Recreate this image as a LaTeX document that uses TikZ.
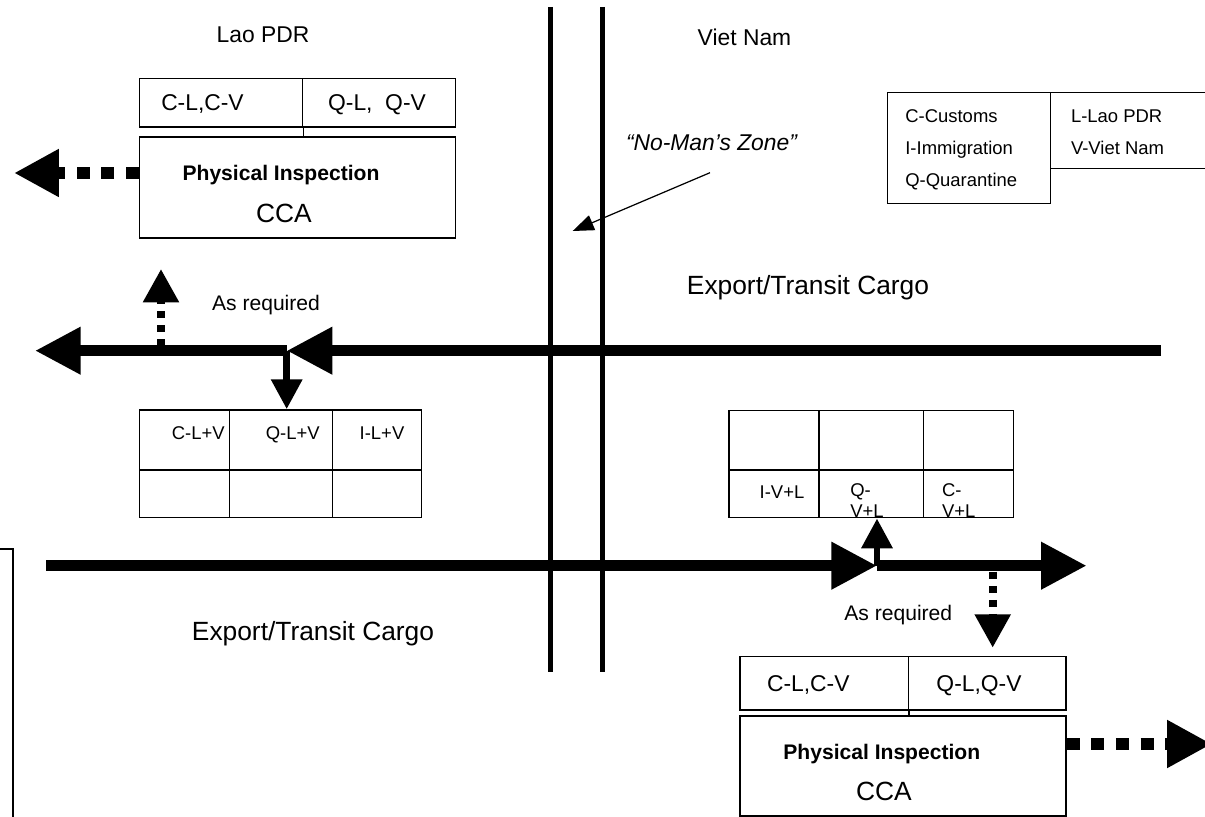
\documentclass[tikz,border=0pt]{standalone}
\usepackage{fontspec}
\setmainfont{Liberation Sans}
\usetikzlibrary{positioning,arrows.meta,fit,calc}

\begin{document}
\begin{tikzpicture}[
  x=0.02cm, y=-0.02cm,
  txt/.style={inner sep=0pt, text depth=0pt, font=\fontsize{13}{15}\selectfont},
  small/.style={inner sep=0pt, text depth=0pt, font=\fontsize{10.5}{12}\selectfont},
  big/.style={inner sep=0pt, text depth=0pt, font=\fontsize{15}{18}\selectfont},
  phys/.style={inner sep=0pt, text depth=0pt, font=\fontsize{12}{14}\selectfont\bfseries},
  note/.style={inner sep=0pt, text depth=0pt, font=\fontsize{12}{14}\selectfont},
  cell/.style={draw, line width=0.9pt, inner sep=0pt},
  rule/.style={line width=0.9pt},
  border/.style={line width=2.8pt},
  flow/.style={line width=6.2pt, -{Triangle[length=26pt, width=25.5pt]}},
  link/.style={line width=3.9pt, -{Triangle[length=17pt, width=17pt]}},
  dots/.style={line width=4.4pt, dash pattern=on 4pt off 4pt,
               -{Triangle[length=19pt, width=19.5pt]}},
  bigdots/.style={line width=6.8pt, dash pattern=on 7.4pt off 6.6pt,
                  -{Triangle[length=25.5pt, width=25.5pt]}},
  pointer/.style={line width=0.7pt, -{Triangle[length=12pt, width=9pt]}}]

\useasboundingbox (0,0) rectangle (1205,817);
\clip (0,0) rectangle (1205,817);

% border of the no-man's zone
\draw[border] (550.7,7) -- (550.7,671.7);
\draw[border] (602.7,7) -- (602.7,671.7);
\draw[rule] (0,549) -- (13,549) -- (13,830);

% country names
\node[txt] (lao) at (263,35) {Lao PDR};
\node[txt] (viet) at (744.5,37) {Viet Nam};
\node[txt, font=\fontsize{13}{15}\selectfont\itshape] (zone) at (711.5,143) {“No-Man’s Zone”};
\coordinate (zoneFrom) at (710,172.7);
\coordinate (zoneTip) at (572.7,231);
\draw[pointer] (zoneFrom) -- (zoneTip);

% legend
\node[cell, fit={(887.3,92.3) (1050.7,203.3)}] (legA) {};
\node[cell, fit={(1050.7,92.3) (1220,168.3)}] (legB) {};
\node[small, anchor=west] at (905,116) {C-Customs};
\node[small, anchor=west] at (905,148.3) {I-Immigration};
\node[small, anchor=west] at (905,180) {Q-Quarantine};
\node[small, anchor=west] at (1070.7,116) {L-Lao PDR};
\node[small, anchor=west] at (1070.7,148.3) {V-Viet Nam};

% Lao PDR inspection
\node[cell, fit={(139.5,78.3) (302.5,127)}] (clcvL) {};
\node[cell, fit={(302.5,78.3) (455.5,127)}] (qlqvL) {};
\node[cell, fit={(139.5,137) (455.5,238)}] (inspL) {};
\draw[rule] (clcvL.south east) -- (clcvL.south east |- inspL.north);
\node[txt] at (202.5,103) {C-L,C-V};
\node[txt] at (377,103) {Q-L,\ \ Q-V};
\node[phys] at (281,173) {Physical Inspection};
\node[big] at (284,213) {CCA};

% Lao PDR joint table
\node[cell, fit={(139.5,410) (229.5,470)}] (lt1) {};
\node[cell, fit={(229.5,410) (332.5,470)}] (lt2) {};
\node[cell, fit={(332.5,410) (421.5,470)}] (lt3) {};
\node[cell, fit={(139.5,470) (229.5,517.7)}] (lt4) {};
\node[cell, fit={(229.5,470) (332.5,517.7)}] (lt5) {};
\node[cell, fit={(332.5,470) (421.5,517.7)}] (lt6) {};
\node[small] at (198.3,433) {C-L+V};
\node[small] at (292.8,433) {Q-L+V};
\node[small] at (382,433) {I-L+V};

% Viet Nam joint table
\node[cell, fit={(729,410.7) (819,470)}] (rt1) {};
\node[cell, fit={(819,410.7) (923.3,470)}] (rt2) {};
\node[cell, fit={(923.3,410.7) (1013.3,470)}] (rt3) {};
\node[cell, fit={(729,470) (819,517.7)}] (rt4) {};
\node[cell, fit={(819,470) (923.3,517.7)}] (rt5) {};
\node[cell, fit={(923.3,470) (1013.3,517.7)}] (rt6) {};
\node[small] at (782,491.7) {I-V+L};
\node[small, align=left, anchor=west] at (850,501) {Q-\\V+L};
\node[small, align=left, anchor=west] at (941.7,501) {C-\\V+L};

% Viet Nam inspection
\node[cell, fit={(740,656.7) (908.3,710)}] (clcvV) {};
\node[cell, fit={(908.3,656.7) (1066,710)}] (qlqvV) {};
\node[cell, fit={(740,716) (1066,816)}] (inspV) {};
\draw[rule] (clcvV.south east) -- (clcvV.south east |- inspV.north);
\node[txt] at (808.3,684) {C-L,C-V};
\node[txt] at (979,684) {Q-L,Q-V};
\node[phys] at (881.8,752) {Physical Inspection};
\node[big] at (884,791.7) {CCA};

% cargo lanes
\node[big] (cargoV) at (808,285) {Export/Transit Cargo};
\node[big] (cargoL) at (313,631) {Export/Transit Cargo};
\node[note] (reqL) at (266,302.7) {As required};
\node[note] (reqV) at (898.3,613) {As required};

\coordinate (eastEnd) at (1161,350.7);
\coordinate (jL) at (286.7,350.7);
\coordinate (westEnd) at (35,350.7);
\coordinate (upTip) at (161,269);
\coordinate (leftTip) at (14,173);
\coordinate (westStart) at (46,565.7);
\coordinate (jR) at (877,565.7);
\coordinate (eastTip) at (1086.7,565.7);
\coordinate (downTip) at (992.7,647.7);
\coordinate (rightTip) at (1212,744);

\draw[flow] (eastEnd) -- (jL);
\draw[flow] (jL) -- (westEnd);
\draw[link] (jL) -- (jL |- lt2.north);
\draw[dots] ($(upTip |- westEnd)+(0,-5)$) -- (upTip);
\draw[bigdots] (inspL.west |- leftTip) -- (leftTip);

\draw[flow] (westStart) -- (jR);
\draw[flow] (jR) -- (eastTip);
\draw[link] (jR) -- (jR |- rt5.south);
\draw[dots] ($(downTip |- jR)+(0,6)$) -- (downTip);
\draw[bigdots] (inspV.east |- rightTip) -- (rightTip);
\end{tikzpicture}
\end{document}
